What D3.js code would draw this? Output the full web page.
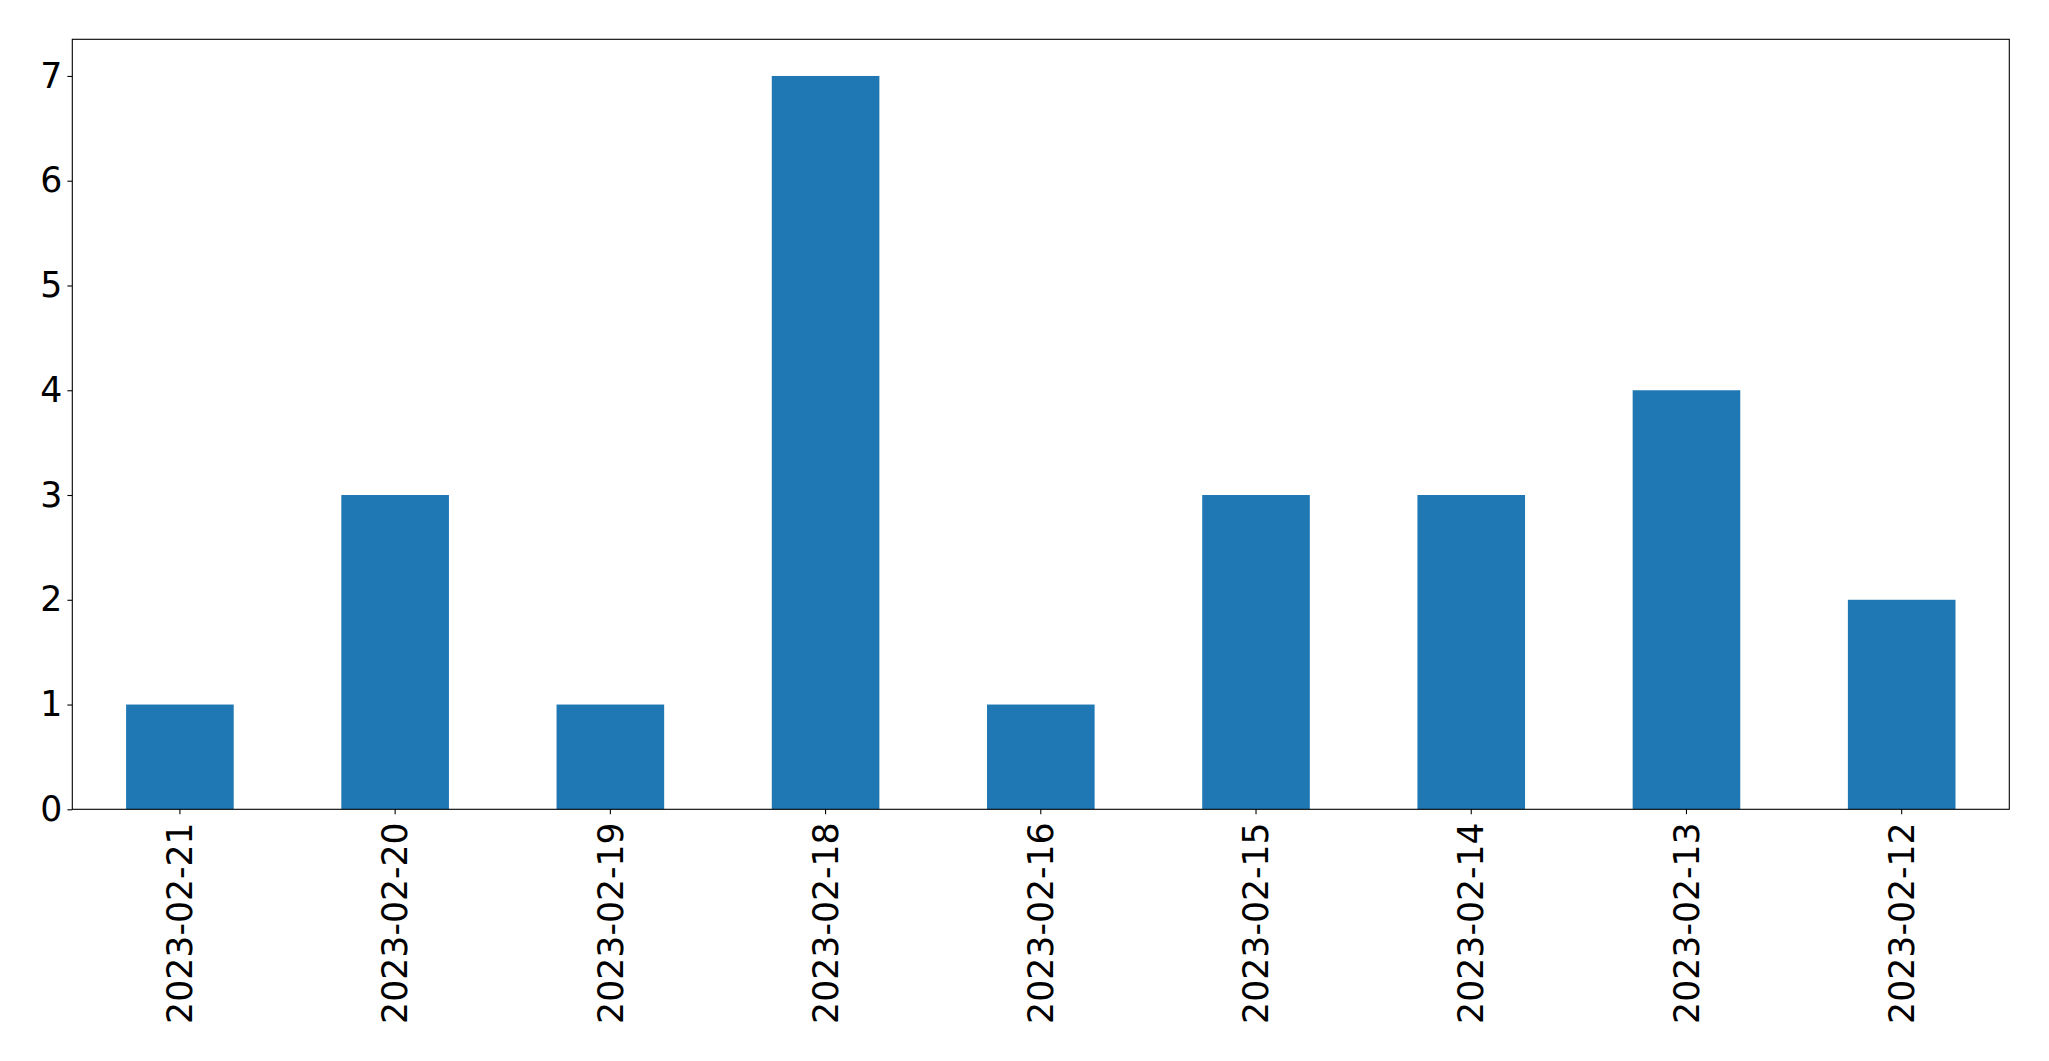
<!DOCTYPE html>
<html>
<head>
<meta charset="utf-8">
<script src="https://cdn.jsdelivr.net/npm/d3@7"></script>
<style>
  html, body { margin: 0; padding: 0; background: #fff; }
  svg { display: block; }
  text { font-family: "DejaVu Sans", sans-serif; fill: #000; }
</style>
</head>
<body>
<svg id="chart" width="2049" height="1061"></svg>
<script>
const categories = ["2023-02-21", "2023-02-20", "2023-02-19", "2023-02-18", "2023-02-16", "2023-02-15", "2023-02-14", "2023-02-13", "2023-02-12"];
const values = [1, 3, 1, 7, 1, 3, 3, 4, 2];
const yTicks = [0, 1, 2, 3, 4, 5, 6, 7];

const margin = { left: 72.3, right: 2049 - 2009.3, top: 39.3, bottom: 1061 - 809.3 };
const W = 2049, H = 1061;
const svg = d3.select("#chart");

const x = d3.scaleBand()
  .domain(categories)
  .range([margin.left, W - margin.right])
  .paddingInner(0.5)
  .paddingOuter(0.25);

const y = d3.scaleLinear()
  .domain([0, d3.max(values) * 1.05])
  .range([H - margin.bottom, margin.top]);

const fontSize = 34.7;

svg.append("g")
  .selectAll("rect")
  .data(values)
  .join("rect")
  .attr("x", (d, i) => x(categories[i]))
  .attr("width", x.bandwidth())
  .attr("y", d => y(d))
  .attr("height", d => y(0) - y(d))
  .attr("fill", "#1f77b4");

// Frame
svg.append("rect")
  .attr("x", margin.left)
  .attr("y", margin.top)
  .attr("width", W - margin.right - margin.left)
  .attr("height", H - margin.bottom - margin.top)
  .attr("fill", "none")
  .attr("stroke", "#000")
  .attr("stroke-width", 1.1);

// Y axis
const yAxis = svg.append("g")
  .attr("transform", `translate(${margin.left},0)`)
  .call(d3.axisLeft(y).tickValues(yTicks).tickFormat(d3.format("d")).tickSize(4.9).tickPadding(5));
yAxis.select(".domain").remove();
yAxis.selectAll(".tick line").attr("stroke", "#000").attr("stroke-width", 1.1);
yAxis.selectAll(".tick text")
  .style("font-size", fontSize + "px")
  .style("font-family", "'DejaVu Sans', sans-serif")
  .attr("fill", "#000");

// X axis
const xAxis = svg.append("g")
  .attr("transform", `translate(0,${H - margin.bottom})`)
  .call(d3.axisBottom(x).tickSize(4.9).tickPadding(5));
xAxis.select(".domain").remove();
xAxis.selectAll(".tick line").attr("stroke", "#000").attr("stroke-width", 1.1);
xAxis.selectAll(".tick text")
  .style("font-size", fontSize + "px")
  .style("font-family", "'DejaVu Sans', sans-serif")
  .attr("fill", "#000")
  .attr("transform", "rotate(-90)")
  .attr("x", -13)
  .attr("y", 0)
  .attr("dy", "0.35em")
  .attr("text-anchor", "end");
</script>
</body>
</html>
